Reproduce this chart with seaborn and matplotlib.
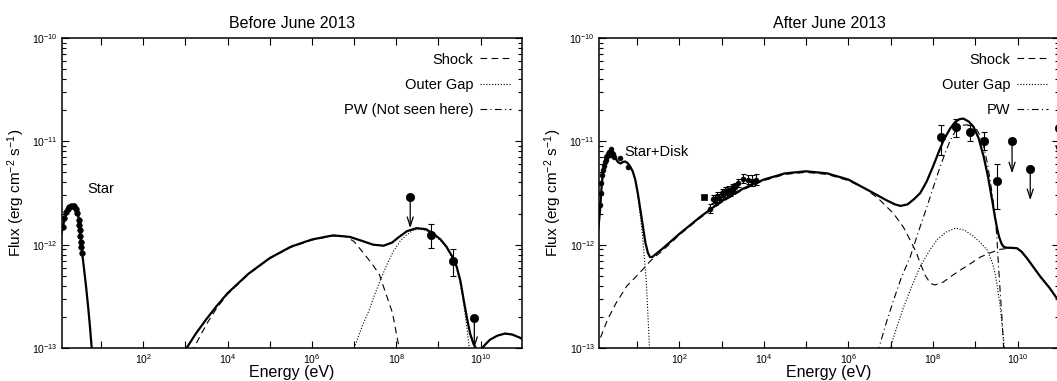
import numpy as np
import pandas as pd
import matplotlib
matplotlib.use("Agg")
import matplotlib.pyplot as plt
import seaborn as sns
from matplotlib.ticker import FixedLocator, LogLocator, NullFormatter, LogFormatterSciNotation

# ---------------- data: log10 E [eV], log10 F [erg cm^-2 s^-1] ----------------
# ---- Before June 2013 ----
b_star_logE = [0.0, 0.08, 0.15, 0.22, 0.30, 0.38, 0.42, 0.46, 0.50, 0.53, 0.56, 0.60, 0.65, 0.70, 0.74, 0.78, 0.80]
b_star_logF = [-12.0, -11.86, -11.73, -11.66, -11.625, -11.63, -11.65, -11.71, -11.84, -11.98, -12.10, -12.24, -12.42, -12.62, -12.80, -13.0, -13.1]
b_star_data_logE = [0.09, 0.13, 0.17, 0.21, 0.25, 0.29, 0.33, 0.37, 0.41, 0.44, 0.47, 0.49, 0.50, 0.51, 0.52, 0.53, 0.54]
b_star_data_logF = [-11.83, -11.74, -11.68, -11.65, -11.635, -11.625, -11.625, -11.63, -11.65, -11.69, -11.76, -11.81, -11.86, -11.92, -11.97, -12.02, -12.08]

b_total_logE = [2.98, 3.03, 3.25, 3.5, 3.75, 4.0, 4.5, 5.0, 5.5, 6.0, 6.5, 6.9, 7.2, 7.45, 7.7, 7.9, 8.05, 8.25,
                8.48, 8.7, 8.87, 9.05, 9.19, 9.32, 9.43, 9.52, 9.6, 9.68, 9.75, 9.83, 9.9, 9.96, 10.02, 10.1,
                10.22, 10.4, 10.58, 10.75, 10.93, 11.05]
b_total_logF = [-13.05, -13.0, -12.86, -12.72, -12.59, -12.47, -12.28, -12.13, -12.02, -11.95, -11.91, -11.925,
                -11.965, -12.0, -12.01, -11.98, -11.93, -11.87, -11.84, -11.85, -11.89, -11.95, -12.02, -12.11,
                -12.21, -12.35, -12.54, -12.72, -12.86, -12.96, -13.01, -13.03, -13.01, -12.97, -12.92, -12.88,
                -12.86, -12.87, -12.90, -12.93]
b_shock_logE = [3.15, 3.2, 3.5, 3.75, 4.0, 4.5, 5.0, 5.5, 6.0, 6.5, 6.8, 7.0, 7.28, 7.45, 7.6, 7.75, 7.91, 8.03, 8.1]
b_shock_logF = [-13.05, -13.0, -12.77, -12.61, -12.48, -12.285, -12.135, -12.025, -11.955, -11.915, -11.92, -11.97,
                -12.11, -12.2, -12.29, -12.47, -12.66, -12.92, -13.05]
b_gap_logE = [6.95, 7.0, 7.2, 7.36, 7.5, 7.64, 7.78, 7.91, 8.1, 8.23, 8.4, 8.55, 8.7, 8.87, 9.05, 9.19, 9.32,
              9.43, 9.52, 9.6, 9.66, 9.72, 9.75]
b_gap_logF = [-13.05, -13.0, -12.78, -12.63, -12.47, -12.325, -12.19, -12.08, -11.96, -11.91, -11.86, -11.85,
              -11.86, -11.90, -11.96, -12.03, -12.12, -12.23, -12.38, -12.58, -12.76, -12.96, -13.05]
b_pw_logE = [9.9, 9.96, 10.02, 10.1, 10.22, 10.4, 10.58, 10.75, 10.93, 11.05]
b_pw_logF = [-13.1, -13.05, -13.01, -12.97, -12.92, -12.88, -12.86, -12.87, -12.90, -12.93]

b_fermi_logE = [8.83, 9.35]
b_fermi_logF = [-11.906, -12.155]
b_fermi_hi = [-11.80, -12.045]
b_fermi_lo = [-12.035, -12.30]
b_ul_logE = [8.33, 9.85]
b_ul_logF = [-11.535, -12.71]
b_ul_end = [-11.84, -13.0]

# ---- After June 2013 ----
a_total_logE = [0.05, 0.13, 0.17, 0.21, 0.25, 0.33, 0.41, 0.49, 0.55, 0.61, 0.67, 0.72, 0.78, 0.84, 0.9, 0.96,
                1.02, 1.08, 1.14, 1.2, 1.26, 1.31, 1.36, 1.42, 1.6, 2.02, 2.5, 3.0, 3.5, 4.0, 4.5, 5.0, 5.5,
                6.0, 6.5, 6.9, 7.1, 7.23, 7.4, 7.55, 7.7, 7.85, 8.0, 8.12, 8.25, 8.4, 8.53, 8.63, 8.72, 8.85,
                8.96, 9.08, 9.2, 9.3, 9.4, 9.46, 9.51, 9.56, 9.62, 9.67, 9.75, 9.85, 9.99, 10.1, 10.22, 10.38,
                10.54, 10.76, 10.98, 11.05]
a_total_logF = [-12.0, -11.66, -11.40, -11.28, -11.21, -11.15, -11.13, -11.16, -11.20, -11.215, -11.20, -11.195,
                -11.21, -11.245, -11.29, -11.37, -11.50, -11.66, -11.82, -11.98, -12.08, -12.12, -12.12, -12.10,
                -12.04, -11.89, -11.73, -11.58, -11.46, -11.37, -11.31, -11.29, -11.31, -11.37, -11.48, -11.57,
                -11.61, -11.625, -11.61, -11.56, -11.50, -11.39, -11.245, -11.12, -10.99, -10.88, -10.81,
                -10.785, -10.78, -10.81, -10.86, -10.97, -11.15, -11.34, -11.57, -11.72, -11.83, -11.92, -11.99,
                -12.02, -12.03, -12.03, -12.035, -12.07, -12.13, -12.22, -12.31, -12.42, -12.55, -12.6]
a_shock_logE = [0.05, 0.11, 0.3, 0.5, 0.76, 1.0, 1.16, 1.3, 1.42, 1.6, 2.02, 2.5, 3.0, 3.5, 4.0, 4.5, 5.0, 5.5,
                6.0, 6.4, 6.7, 7.07, 7.3, 7.46, 7.6, 7.7, 7.82, 7.94, 8.05, 8.25, 8.45, 8.65, 8.9, 9.12, 9.35,
                9.59, 9.8, 9.99, 10.1, 10.22, 10.38, 10.54, 10.76, 10.98, 11.05]
a_shock_logF = [-13.0, -12.93, -12.73, -12.57, -12.40, -12.30, -12.23, -12.165, -12.12, -12.06, -11.90, -11.74,
                -11.59, -11.47, -11.38, -11.32, -11.30, -11.32, -11.38, -11.46, -11.55, -11.70, -11.83, -11.955,
                -12.07, -12.18, -12.30, -12.375, -12.39, -12.36, -12.30, -12.245, -12.18, -12.12, -12.08,
                -12.045, -12.035, -12.035, -12.07, -12.13, -12.22, -12.31, -12.42, -12.55, -12.6]
a_disk_logE = [0.05, 0.13, 0.17, 0.21, 0.25, 0.33, 0.41, 0.49, 0.55, 0.61, 0.67, 0.72, 0.78, 0.84, 0.9, 0.96,
               1.02, 1.08, 1.14, 1.18, 1.22, 1.25, 1.28, 1.30]
a_disk_logF = [-12.0, -11.66, -11.40, -11.28, -11.21, -11.15, -11.13, -11.16, -11.20, -11.215, -11.20, -11.195,
               -11.21, -11.245, -11.29, -11.38, -11.52, -11.72, -11.95, -12.15, -12.35, -12.6, -12.85, -13.05]
a_pw_logE = [6.68, 6.72, 6.9, 7.07, 7.25, 7.46, 7.66, 7.86, 8.02, 8.17, 8.3, 8.41, 8.52, 8.61, 8.7, 8.8, 8.92,
             9.04, 9.12, 9.2, 9.28, 9.35, 9.42, 9.47, 9.51, 9.55, 9.59, 9.63, 9.67, 9.7]
a_pw_logF = [-13.05, -13.0, -12.75, -12.535, -12.32, -12.12, -11.87, -11.63, -11.43, -11.245, -11.10, -10.99,
             -10.91, -10.86, -10.845, -10.84, -10.85, -10.89, -10.95, -11.05, -11.2, -11.37, -11.57, -11.73,
             -11.92, -12.21, -12.46, -12.70, -13.0, -13.1]
a_gap_logE = [6.95, 6.99, 7.15, 7.31, 7.5, 7.70, 7.9, 8.09, 8.3, 8.53, 8.75, 8.96, 9.12, 9.28, 9.4, 9.47, 9.53,
              9.59, 9.64, 9.69, 9.72]
a_gap_logF = [-13.05, -13.0, -12.79, -12.6, -12.40, -12.21, -12.07, -11.955, -11.88, -11.84, -11.86, -11.92,
              -11.98, -12.05, -12.17, -12.28, -12.43, -12.60, -12.80, -13.0, -13.1]

a_disk_data_logE = [0.12, 0.14, 0.16, 0.18, 0.20, 0.22, 0.24, 0.26, 0.28, 0.30, 0.32, 0.34, 0.36, 0.38, 0.40,
                    0.42, 0.44, 0.46, 0.61, 0.80]
a_disk_data_logF = [-11.62, -11.50, -11.40, -11.33, -11.28, -11.24, -11.20, -11.18, -11.15, -11.14, -11.12,
                    -11.10, -11.13, -11.07, -11.11, -11.13, -11.12, -11.15, -11.16, -11.245]
a_xray_logE = [2.72, 2.80, 2.85, 2.90, 2.95, 3.00, 3.04, 3.08, 3.12, 3.16, 3.20, 3.24, 3.28, 3.33, 3.40, 3.50,
               3.62, 3.72, 3.82]
a_xray_logF = [-11.65, -11.56, -11.58, -11.53, -11.55, -11.50, -11.52, -11.48, -11.50, -11.47, -11.49, -11.45,
               -11.46, -11.44, -11.40, -11.36, -11.37, -11.38, -11.37]
a_xray_err = [0.04, 0.04, 0.04, 0.04, 0.04, 0.04, 0.04, 0.04, 0.04, 0.04, 0.04, 0.04, 0.04, 0.04, 0.04, 0.04,
              0.04, 0.05, 0.05]
a_sq_logE = [2.59]
a_sq_logF = [-11.54]
a_fermi_logE = [8.20, 8.54, 8.87, 9.20, 9.51]
a_fermi_logF = [-10.96, -10.86, -10.91, -11.0, -11.38]
a_fermi_hi = [-10.84, -10.78, -10.84, -10.91, -11.22]
a_fermi_lo = [-11.13, -10.955, -11.0, -11.08, -11.65]
a_ul_logE = [9.87, 10.30, 10.98]
a_ul_logF = [-11.0, -11.27, -10.87]
a_ul_end = [-11.31, -11.57, -11.15]

titles = ["Before June 2013", "After June 2013"]
legend_labels_before = ["Shock", "Outer Gap", "PW (Not seen here)"]
legend_labels_after = ["Shock", "Outer Gap", "PW"]

# ---------------- style ----------------
sns.set_theme(style="ticks")
plt.rcParams.update({
    "font.family": ["Liberation Sans", "DejaVu Sans"],
    "mathtext.fontset": "custom",
    "mathtext.rm": "Liberation Sans",
    "mathtext.it": "Liberation Sans:italic",
    "mathtext.bf": "Liberation Sans:bold",
    "axes.edgecolor": "black",
    "axes.linewidth": 1.1,
    "xtick.color": "black",
    "ytick.color": "black",
    "text.color": "black",
    "axes.labelcolor": "black",
})

SOLID = "-"
DASH = (0, (6, 4))
DOT = (0, (1, 1.6))
DASHDOT = (0, (6, 3, 1, 3))

fig = plt.figure(figsize=(10.57, 3.81), dpi=100)
W, H = 1057.0, 381.0
axL = fig.add_axes([62 / W, 33 / H, 460 / W, 310 / H])
axR = fig.add_axes([599.3 / W, 33 / H, 459.7 / W, 310 / H])


def curve(ax, lx, lf, style, lw):
    df = pd.DataFrame({"E": 10 ** np.asarray(lx, float), "F": 10 ** np.asarray(lf, float)})
    sns.lineplot(data=df, x="E", y="F", ax=ax, color="black", linewidth=lw, linestyle=style,
                 sort=False, estimator=None, legend=False)
    return ax.lines[-1]


def points(ax, lx, lf, size, marker="o"):
    sns.scatterplot(x=10 ** np.asarray(lx, float), y=10 ** np.asarray(lf, float), ax=ax, color="black",
                    s=size, marker=marker, edgecolor="black", linewidth=0.5, legend=False, zorder=5)


def errbars(ax, lx, lf, lo, hi, cap=2.5):
    x = 10 ** np.asarray(lx, float)
    y = 10 ** np.asarray(lf, float)
    yl = y - 10 ** np.asarray(lo, float)
    yh = 10 ** np.asarray(hi, float) - y
    ax.errorbar(x, y, yerr=[yl, yh], fmt="none", ecolor="black", elinewidth=0.8, capsize=cap, capthick=0.8,
                zorder=4)


def uplims(ax, lx, lf, lend):
    for e, f, fe in zip(lx, lf, lend):
        ax.annotate("", xy=(10 ** e, 10 ** fe), xytext=(10 ** e, 10 ** f),
                    arrowprops=dict(arrowstyle="->,head_width=0.18,head_length=0.55", lw=0.9, color="black",
                                    shrinkA=0, shrinkB=0))
    points(ax, lx, lf, 36)


# ---- left panel ----
curve(axL, b_pw_logE, b_pw_logF, DASHDOT, 0.8)
l_pw = axL.lines[-1]
l_shock = curve(axL, b_shock_logE, b_shock_logF, DASH, 0.8)
l_gap = curve(axL, b_gap_logE, b_gap_logF, DOT, 0.8)
curve(axL, b_star_logE, b_star_logF, SOLID, 1.6)
curve(axL, b_total_logE, b_total_logF, SOLID, 1.6)
points(axL, b_star_data_logE, b_star_data_logF, 16)
errbars(axL, b_fermi_logE, b_fermi_logF, b_fermi_lo, b_fermi_hi)
points(axL, b_fermi_logE, b_fermi_logF, 36)
uplims(axL, b_ul_logE, b_ul_logF, b_ul_end)
axL.text(10 ** 0.675, 10 ** -11.46, "Star", fontsize=10.5, va="center", ha="left")

# ---- right panel ----
r_shock = curve(axR, a_shock_logE, a_shock_logF, DASH, 0.8)
r_gap = curve(axR, a_gap_logE, a_gap_logF, DOT, 0.8)
r_pw = curve(axR, a_pw_logE, a_pw_logF, DASHDOT, 0.8)
curve(axR, a_disk_logE, a_disk_logF, DOT, 0.8)
curve(axR, a_total_logE, a_total_logF, SOLID, 1.6)
points(axR, a_disk_data_logE, a_disk_data_logF, 12)
errbars(axR, a_xray_logE, a_xray_logF,
        [f - e for f, e in zip(a_xray_logF, a_xray_err)], [f + e for f, e in zip(a_xray_logF, a_xray_err)], cap=1.8)
points(axR, a_xray_logE, a_xray_logF, 12)
points(axR, a_sq_logE, a_sq_logF, 16, marker="s")
errbars(axR, a_fermi_logE, a_fermi_logF, a_fermi_lo, a_fermi_hi)
points(axR, a_fermi_logE, a_fermi_logF, 36)
uplims(axR, a_ul_logE, a_ul_logF, a_ul_end)
axR.text(10 ** 0.70, 10 ** -11.105, "Star+Disk", fontsize=10.5, va="center", ha="left")

# ---- axes styling ----
xmins = [10 ** 0.076, 10 ** 0.11]
for ax, title, xmin in zip((axL, axR), titles, xmins):
    ax.set_xscale("log")
    ax.set_yscale("log")
    ax.set_xlim(xmin, 10 ** 10.98)
    ax.set_ylim(1e-13, 1e-10)
    ax.xaxis.set_major_locator(FixedLocator([1e2, 1e4, 1e6, 1e8, 1e10]))
    ax.xaxis.set_major_formatter(LogFormatterSciNotation())
    ax.xaxis.set_minor_locator(FixedLocator([1e1, 1e3, 1e5, 1e7, 1e9]))
    ax.xaxis.set_minor_formatter(NullFormatter())
    ax.yaxis.set_major_locator(FixedLocator([1e-13, 1e-12, 1e-11, 1e-10]))
    ax.yaxis.set_major_formatter(LogFormatterSciNotation())
    ax.yaxis.set_minor_locator(LogLocator(base=10, subs=np.arange(2, 10), numticks=12))
    ax.yaxis.set_minor_formatter(NullFormatter())
    ax.tick_params(which="both", direction="in", top=True, right=True, labelsize=7.5, width=0.8, pad=3)
    ax.tick_params(which="major", length=5)
    ax.tick_params(axis="x", which="minor", length=5)
    ax.tick_params(axis="y", which="minor", length=3)
    ax.set_title(title, fontsize=11.5, pad=7)
    ax.set_xlabel("Energy (eV)", fontsize=11.5, labelpad=-1)
    ax.set_ylabel("Flux (erg cm$^{-2}$ s$^{-1}$)", fontsize=11)
    ax.yaxis.set_label_coords(-0.076, 0.5)
    for s in ax.spines.values():
        s.set_linewidth(1.1)

for ax, handles, labels in ((axL, [l_shock, l_gap, l_pw], legend_labels_before),
                            (axR, [r_shock, r_gap, r_pw], legend_labels_after)):
    ax.legend(handles=handles, labels=labels, loc="upper right", bbox_to_anchor=(0.976, 0.953),
              frameon=False, markerfirst=False, fontsize=10.5, handlelength=2.1, handletextpad=0.5,
              labelspacing=0.76, borderaxespad=0, borderpad=0)

fig.savefig("out.png", dpi=100)
